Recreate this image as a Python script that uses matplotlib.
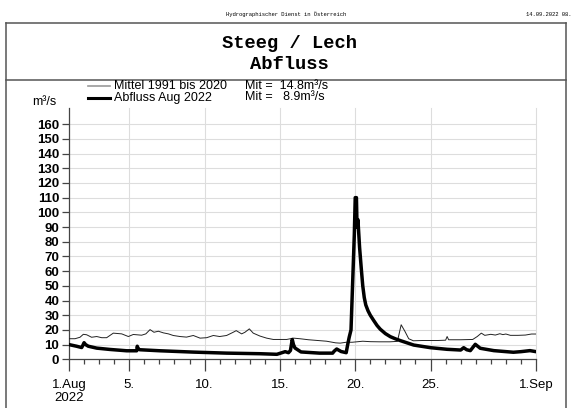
import matplotlib
matplotlib.use("Agg")
import matplotlib.pyplot as plt
from matplotlib.lines import Line2D
from matplotlib.ticker import MultipleLocator

# day of month (1.0 = 1 Aug 00:00, 32.0 = 1 Sep) and discharge in m3/s
mittel_day = [1.0, 1.4, 1.73, 1.95, 2.17, 2.5, 2.84, 3.17, 3.5, 3.94, 4.5, 4.94,
              5.27, 5.82, 6.1, 6.38, 6.64, 6.93, 7.26, 7.6, 7.92, 8.37, 8.8, 9.25,
              9.7, 10.14, 10.58, 11.0, 11.46, 11.9, 12.1, 12.46, 12.68, 12.97, 13.23,
              13.68, 14.12, 14.56, 15.0, 15.45, 15.9, 16.33, 16.9, 17.5, 18.1, 18.7,
              19.0, 19.4, 19.8, 20.5, 21.0, 21.6, 22.3, 22.8, 23.05, 23.3, 23.55,
              23.86, 24.5, 25.5, 26.0, 26.1, 26.2, 27.0, 27.8, 28.1, 28.37, 28.6,
              29.0, 29.3, 29.6, 29.8, 30.0, 30.3, 30.8, 31.3, 31.7, 32.0]
mittel_q = [14.0, 14.0, 15.0, 17.0, 16.7, 15.0, 15.5, 14.7, 14.7, 17.8, 17.3, 15.5,
            16.9, 16.4, 17.3, 20.2, 18.4, 19.1, 18.0, 17.3, 16.2, 15.5, 15.1, 16.2,
            14.4, 14.7, 16.2, 15.5, 16.2, 18.4, 19.5, 17.3, 18.4, 20.7, 17.8,
            15.8, 14.4, 13.5, 13.5, 13.5, 14.4, 14.0, 13.3, 12.8, 12.3, 11.2,
            11.0, 11.6, 11.6, 12.3, 12.0, 11.9, 11.9, 12.2, 23.5, 19.0, 14.0,
            12.6, 12.8, 12.8, 13.0, 15.5, 13.3, 13.3, 13.5, 15.5, 17.8, 16.3,
            17.0, 16.5, 17.4, 16.8, 17.2, 16.3, 16.3, 16.5, 17.2, 17.2]

abfluss_day = [1.0, 1.5, 1.84, 1.92, 2.0, 2.1, 2.28, 2.84, 3.72, 4.83, 5.5, 5.53,
               5.6, 5.71, 7.04, 9.25, 11.46, 13.68, 14.8, 15.35, 15.57, 15.7, 15.82,
               15.9, 16.0, 16.4, 17.63, 18.5, 18.6, 18.77, 19.06, 19.4, 19.5, 19.6,
               19.72, 19.94, 20.0, 20.08, 20.12, 20.18, 20.29, 20.4, 20.5, 20.6,
               20.7, 20.85, 21.0, 21.22, 21.45, 21.66, 22.0, 22.33, 22.7, 23.0,
               23.88, 25.0, 26.1, 27.0, 27.2, 27.4, 27.64, 27.97, 28.3, 29.2, 30.5,
               31.0, 31.6, 32.0]
abfluss_q = [10.0, 8.9, 8.0, 9.5, 11.3, 10.0, 8.9, 7.6, 6.7, 5.8, 5.8, 8.9,
             7.0, 6.5, 5.8, 4.9, 4.2, 3.8, 3.4, 5.2, 4.5, 6.0, 13.5,
             10.0, 7.7, 5.0, 4.2, 4.2, 5.5, 7.0, 5.3, 4.5, 10.0, 15.0,
             20.0, 85.0, 110.0, 110.0, 90.0, 95.0, 76.0, 62.0, 50.0, 42.0,
             37.0, 33.0, 30.0, 26.5, 23.0, 20.5, 17.5, 15.4, 13.8, 12.7,
             9.7, 7.9, 6.8, 6.3, 7.9, 6.5, 5.9, 10.2, 7.5, 5.9, 4.8,
             5.2, 5.9, 5.2]

major_days = [1, 5, 10, 15, 20, 25, 32]
major_labels = ['1.Aug\n2022', '5.', '10.', '15.', '20.', '25.', '1.Sep']

W, H = 571, 408


def fx(px):
    return px / W


def fy(py):
    return 1 - py / H


fig = plt.figure(figsize=(W / 100, H / 100), dpi=100)
plt.rcParams['font.family'] = ['Liberation Sans', 'DejaVu Sans']

# page frame
frame_kw = dict(transform=fig.transFigure, color='#555555', lw=1.1)
fig.add_artist(Line2D([fx(5.5), fx(566)], [fy(22.5), fy(22.5)], **frame_kw))
fig.add_artist(Line2D([fx(5.5), fx(566)], [fy(80), fy(80)], **frame_kw))
fig.add_artist(Line2D([fx(5.5), fx(5.5)], [fy(22.5), 0], **frame_kw))
fig.add_artist(Line2D([fx(566), fx(566)], [fy(22.5), 0], **frame_kw))

fig.text(fx(286), fy(14.5), 'Hydrographischer Dienst in Österreich', ha='center', va='center',
         family='Liberation Mono', fontsize=4)
fig.text(fx(571), fy(14.5), '14.09.2022 08.', ha='right', va='center',
         family='Liberation Mono', fontsize=4)
fig.text(fx(289), fy(43), 'Steeg / Lech', ha='center', va='center',
         family='Liberation Mono', weight='bold', fontsize=13.5)
fig.text(fx(289), fy(64.5), 'Abfluss', ha='center', va='center',
         family='Liberation Mono', weight='bold', fontsize=13.5)

# legend
fig.add_artist(Line2D([fx(88), fx(110)], [fy(86), fy(86)], transform=fig.transFigure,
                      color='#999999', lw=1.2))
fig.add_artist(Line2D([fx(88), fx(110)], [fy(97.5), fy(97.5)], transform=fig.transFigure,
                      color='black', lw=2.2))
fig.text(fx(114), fy(86), 'Mittel 1991 bis 2020', va='center', fontsize=9)
fig.text(fx(114), fy(97.5), 'Abfluss Aug 2022', va='center', fontsize=9)
fig.text(fx(245), fy(86), 'Mit =  14.8m³/s', va='center', fontsize=9)
fig.text(fx(245), fy(97.5), 'Mit =   8.9m³/s', va='center', fontsize=9)
fig.text(fx(44), fy(102), 'm³/s', ha='center', va='center', fontsize=9)

ax = fig.add_axes([fx(69), fy(359.3), fx(536) - fx(69), fy(108) - fy(359.3)])
ax.plot(mittel_day, mittel_q, color='#222222', lw=0.7, zorder=3)
ax.plot(abfluss_day, abfluss_q, color='black', lw=2.5, zorder=4)

ax.set_xlim(1, 32)
ax.set_ylim(0, 171)
ax.set_yticks(range(0, 161, 10))
ax.set_xticks(major_days)
ax.set_xticklabels(major_labels, linespacing=1.05)
ax.xaxis.set_minor_locator(MultipleLocator(1))

for y in range(10, 161, 10):
    ax.axhline(y, color='#dddddd', lw=0.8, zorder=1)
for d in major_days[1:]:
    ax.axvline(d, color='#dddddd', lw=0.8, zorder=1, clip_on=False)

for s in ['top', 'right']:
    ax.spines[s].set_visible(False)
for s in ['left', 'bottom']:
    ax.spines[s].set_color('#444444')
    ax.spines[s].set_linewidth(0.9)

ax.tick_params(axis='y', direction='out', length=5, width=0.9, color='#444444',
               labelsize=9.5, pad=2)
ax.tick_params(axis='x', which='major', direction='out', length=8.5, width=0.9,
               color='#444444', labelsize=9.5, pad=6)
ax.tick_params(axis='x', which='minor', direction='out', length=3.6, width=0.9,
               color='#444444')
for lab in ax.get_yticklabels():
    lab.set_fontweight('bold')

fig.savefig('out.png', dpi=100)
